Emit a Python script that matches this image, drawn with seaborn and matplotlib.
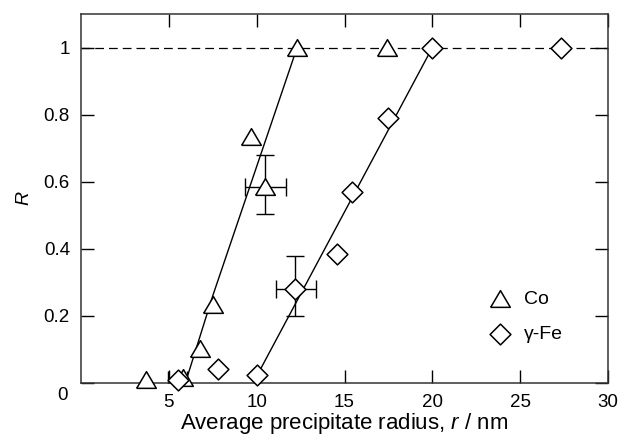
import matplotlib
matplotlib.use('Agg')
import matplotlib.pyplot as plt
import seaborn as sns
import pandas as pd

# Co precipitates (triangles)
co_r = [3.7, 5.8, 6.8, 7.5, 9.7, 10.5, 12.3, 17.4]
co_R = [0.01, 0.015, 0.10, 0.232, 0.732, 0.583, 1.0, 1.0]

# gamma-Fe precipitates (diamonds)
fe_r = [5.5, 7.8, 10.0, 12.2, 14.6, 15.4, 17.5, 20.0, 27.3]
fe_R = [0.01, 0.042, 0.024, 0.28, 0.385, 0.568, 0.79, 1.0, 1.0]

# points carrying error bars
co_err_r, co_err_R = [10.47], [0.583]
co_err_x = [[1.14], [1.2]]
co_err_y = [[0.08], [0.097]]
fe_err_r, fe_err_R = [12.2, 5.5], [0.28, 0.01]
fe_err_x = [[1.1, 0.55], [1.2, 0.55]]
fe_err_y = [[0.08, 0.0], [0.1, 0.0]]

# guide lines
co_fit_r = [6.0, 7.5, 12.3]
co_fit_R = [0.01, 0.26, 1.0]
fe_fit_r = [10.0, 20.0]
fe_fit_R = [0.02, 1.0]

x_ticks = [5, 10, 15, 20, 25, 30]
y_ticks = [0, 0.2, 0.4, 0.6, 0.8, 1.0]
y_tick_labels = ['', '0.2', '0.4', '0.6', '0.8', '1']

sns.set_theme(style='ticks')
plt.rcParams['font.family'] = ['Liberation Sans', 'DejaVu Sans']
plt.rcParams['mathtext.fontset'] = 'custom'
plt.rcParams['mathtext.rm'] = 'Liberation Sans'
plt.rcParams['mathtext.it'] = 'Liberation Sans:italic'
plt.rcParams['text.color'] = 'black'
plt.rcParams['axes.labelcolor'] = 'black'

co = pd.DataFrame({'r': co_r, 'R': co_R})
fe = pd.DataFrame({'r': fe_r, 'R': fe_R})

fig = plt.figure(figsize=(6.24, 4.42), dpi=100)
ax = fig.add_axes([0.1298, 0.1335, 0.8446, 0.8348])

ax.axhline(1.0, color='black', lw=0.9, ls=(0, (7, 4)), zorder=1)
sns.lineplot(x=co_fit_r, y=co_fit_R, ax=ax, color='black', lw=1, sort=False, estimator=None)
sns.lineplot(x=fe_fit_r, y=fe_fit_R, ax=ax, color='black', lw=1, sort=False, estimator=None)

ax.errorbar(co_err_r, co_err_R, xerr=co_err_x, yerr=co_err_y, fmt='none',
            ecolor='black', elinewidth=1, capsize=6.8, capthick=1, zorder=2)
ax.errorbar(fe_err_r, fe_err_R, xerr=fe_err_x, yerr=fe_err_y, fmt='none',
            ecolor='black', elinewidth=1, capsize=6.8, capthick=1, zorder=2)

tri = [(-1, -0.8), (1, -0.8), (0, 0.9), (-1, -0.8)]
sns.scatterplot(data=co, x='r', y='R', ax=ax, marker=tri, s=200, clip_on=False,
                facecolor='white', edgecolor='black', linewidth=1.1, zorder=3, label='Co')
sns.scatterplot(data=fe, x='r', y='R', ax=ax, marker='D', s=112, clip_on=False,
                facecolor='white', edgecolor='black', linewidth=1.1, zorder=3, label='γ-Fe')

ax.set_xlim(0, 30)
ax.set_ylim(0, 1.1)
ax.set_xticks(x_ticks)
ax.set_yticks(y_ticks)
ax.set_yticklabels(y_tick_labels)
ax.tick_params(direction='in', length=9.5, width=1, top=True, right=True,
               labelsize=13.5, pad=8, colors='black')
for s in ax.spines.values():
    s.set_linewidth(1.1)
    s.set_color('#333333')
ax.annotate('0', xy=(0, 0), xycoords='axes fraction', xytext=(-13, -9),
            textcoords='offset points', ha='center', va='center', fontsize=13.5)

ax.set_xlabel('Average precipitate radius, $r$ / nm', fontsize=16, labelpad=0)
ax.set_ylabel('$R$', fontsize=14, labelpad=8)

ax.legend(loc='center left', bbox_to_anchor=(0.755, 0.18), frameon=False, fontsize=14,
          handlelength=1.2, handletextpad=0.6, labelspacing=0.9, borderpad=0)

fig.savefig('out.png', dpi=100)
